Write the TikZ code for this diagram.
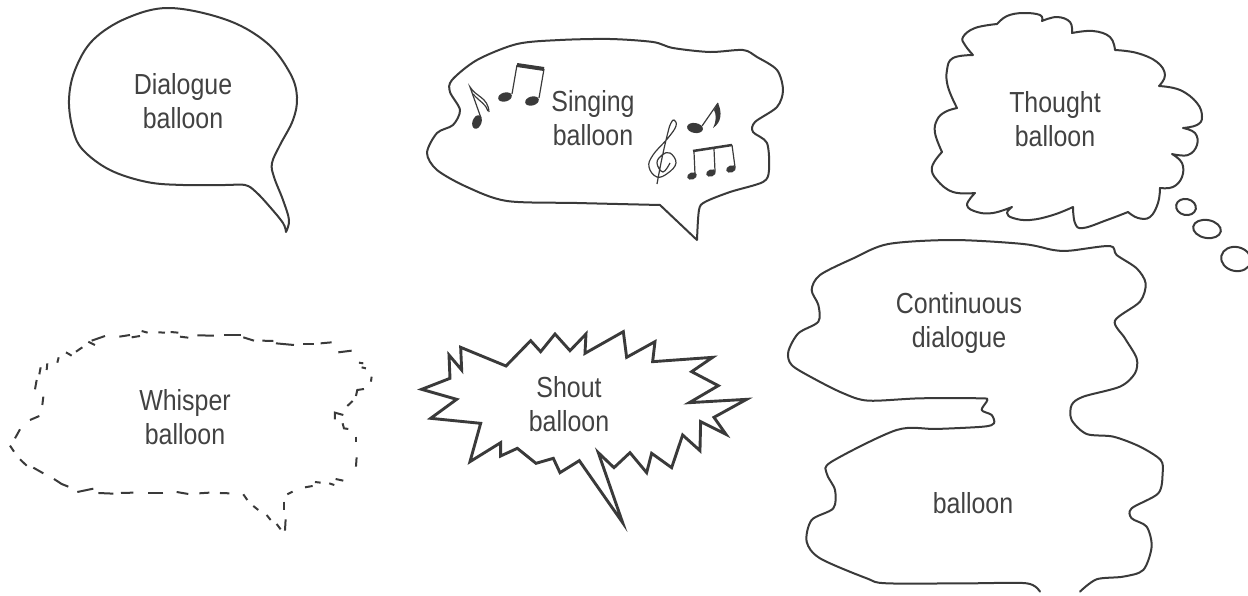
\documentclass[tikz,border=0pt]{standalone}
\usepackage{fontspec}
\setmainfont[FakeStretch=0.86]{Liberation Sans}
\usepackage{xcolor}
\definecolor{inkgray}{RGB}{58,58,58}
\definecolor{textgray}{RGB}{66,66,66}

\begin{document}
\begin{tikzpicture}[
  x=1pt, y=-1pt,
  balloon/.style={draw=inkgray, line width=2pt, line join=round, line cap=round},
  loud/.style={draw=inkgray, line width=2.9pt, line join=miter},
  whisperdash/.style={draw=inkgray, line width=2pt},
  caption/.style={font=\fontsize{29}{34}\selectfont, text=textgray, align=center, inner sep=0pt},
  crop/.style 2 args={shift={(#1,#2)}, x=0.3333pt, y=-0.3333pt},
  notehead/.style={fill=inkgray, draw=none},
  stem/.style={draw=inkgray, line width=1.2pt},
  beam/.style={draw=inkgray, line width=4pt},
]
\useasboundingbox (0,0) rectangle (1248,595);

% ── Dialogue balloon
\draw[balloon] plot[smooth, tension=0.6] coordinates {
  (286,232) (289,220) (283,200) (274,177) (272,163) (280,145) (293,120) (297,97)
  (290,73) (267,43) (227,20) (170,8) (127,18) (93,40) (75,70) (69,100) (73,130)
  (83,150) (110,170) (147,182) (183,185) (225,185) (245,185) (256,192)
  (270,207) (283,223) (286,232)};
\node[caption] (dialogueText) at (183,101) {Dialogue\\balloon};

% ── Singing balloon
\draw[balloon] plot[smooth, tension=0.5] coordinates {
  (697,240) (699,210) (705,202) (730,192) (763,182) (769,170) (767,143) (753,132)
  (755,122) (777,107) (783,90) (777,70) (757,57) (743,50) (710,52) (673,48)
  (653,42) (610,39) (560,40) (517,44) (477,60) (452,80) (450,92) (460,110)
  (453,125) (437,133) (427,153) (437,170) (467,187) (507,201) (577,203) (660,205)}
  -- (697,240);
\node[caption] (singingText) at (593,118) {Singing\\balloon};

% notes, left
\fill[notehead] (477,122) ellipse [x radius=4.5pt, y radius=7pt, rotate=-20];
\draw[stem] (481,118) -- (470,87) .. controls (476,97) and (488,97) .. (489,112);
\draw[stem] (473,94) .. controls (480,102) and (486,104) .. (488,111);
\fill[notehead] (505,97) ellipse [x radius=7pt, y radius=4.5pt, rotate=15];
\fill[notehead] (532,101) ellipse [x radius=7pt, y radius=4.5pt, rotate=15];
\draw[stem] (512,94) -- (517,65);
\draw[stem] (539,98) -- (544,69);
\draw[beam] (517,65) -- (544,69);

% notes, right
\fill[notehead] (695,128) ellipse [x radius=8pt, y radius=5pt, rotate=-10];
\draw[stem] (702,126) -- (718,103);
\fill[inkgray] (718,103) .. controls (722,112) and (722,122) .. (713,128)
  .. controls (717,120) and (716,114) .. (714,110) -- cycle;
\fill[notehead] (692,176) ellipse [x radius=5pt, y radius=3.5pt, rotate=20];
\fill[notehead] (711,173) ellipse [x radius=5pt, y radius=3.5pt, rotate=20];
\fill[notehead] (731,169) ellipse [x radius=5pt, y radius=3.5pt, rotate=20];
\draw[stem] (695,174) -- (694,152);
\draw[stem] (715,171) -- (714,149);
\draw[stem] (735,167) -- (732,145);
\draw[draw=inkgray, line width=2.5pt] (693,151) -- (732,145);

% treble clef
\draw[stem] plot[smooth, tension=0.7] coordinates {
  (657,184) (662,158) (668,132) (671,123) (674,120) (676,126) (668,138) (653,155)
  (649,167) (657,177) (668,173) (676,163) (670,153) (662,155) (657,163) (663,172) (670,163)};

% ── Thought balloon
\draw[balloon] plot[smooth, tension=0.7] coordinates {(973,55) (965,45) (963,37) (975,28) (997,24)}
  -- plot[smooth, tension=0.7] coordinates {(997,24) (1007,16) (1023,13) (1040,15) (1042,21)}
  -- plot[smooth, tension=0.7] coordinates {(1042,21) (1057,17) (1070,22) (1072,33)}
  -- plot[smooth, tension=0.7] coordinates {(1072,33) (1093,31) (1110,37) (1115,50)}
  -- plot[smooth, tension=0.7] coordinates {(1115,50) (1137,53) (1157,62) (1165,75) (1159,86)}
  -- plot[smooth, tension=0.7] coordinates {(1159,86) (1180,90) (1197,103) (1202,117) (1197,125) (1183,128)}
  -- plot[smooth, tension=0.7] coordinates {(1183,128) (1195,133) (1197,145) (1188,155) (1172,154)}
  -- plot[smooth, tension=0.7] coordinates {(1172,154) (1182,163) (1182,177) (1173,187) (1160,188)}
  -- plot[smooth, tension=0.7] coordinates {(1160,188) (1158,203) (1150,217) (1138,218) (1128,212)}
  -- plot[smooth, tension=0.7] coordinates {(1128,212) (1107,220) (1083,228) (1075,223) (1073,207)}
  -- plot[smooth, tension=0.7] coordinates {(1073,207) (1053,215) (1030,220) (1013,218) (1007,213) (1012,207)}
  -- plot[smooth, tension=0.7] coordinates {(1012,207) (993,213) (977,212) (967,205) (975,193)}
  -- plot[smooth, tension=0.7] coordinates {(975,193) (953,192) (937,180) (932,167) (942,152)}
  -- plot[smooth, tension=0.7] coordinates {(942,152) (935,133) (937,120) (945,112) (957,108)}
  -- plot[smooth, tension=0.7] coordinates {(957,108) (948,87) (947,70) (953,58) (973,55)};
\node[caption] (thoughtText) at (1055,119) {Thought\\balloon};
\draw[balloon] (1186,207) ellipse [x radius=10pt, y radius=8pt, rotate=-12];
\draw[balloon] (1207,229) ellipse [x radius=14pt, y radius=9pt, rotate=-10];
\draw[balloon] (1236,259) ellipse [x radius=15pt, y radius=12pt, rotate=-12];

% ── Whisper balloon
\begin{scope}[crop={0}{320}]
  \foreach \ax/\ay/\bx/\by in {
    358/50/390/45, 395/52/420/48, 425/33/443/38, 475/37/495/38, 512/36/535/38,
    540/50/565/53, 592/46/642/47, 672/46/722/46, 730/52/762/62, 787/62/820/63,
    828/70/882/75, 910/72/942/72, 962/70/995/67, 1015/97/1055/92, 1077/128/1090/130,
    1085/142/1098/145, 1115/170/1113/185, 1058/243/1042/258, 1067/350/1067/365,
    1070/412/1068/440, 1030/482/1007/477, 1003/495/988/490, 962/488/945/486,
    938/498/915/502, 878/515/862/523, 853/545/853/570, 857/598/855/632,
    842/628/830/612, 812/600/800/585, 775/570/760/558, 742/540/730/523,
    688/520/660/519, 628/518/598/520, 565/522/530/516, 490/519/445/519,
    400/518/363/519, 340/521/295/519, 280/506/232/516, 130/460/100/443,
    80/437/60/418, 42/395/30/377, 45/355/60/328, 90/300/118/288, 127/255/130/230,
    105/208/110/180, 118/163/122/142, 140/150/142/130, 172/128/176/112,
    198/97/215/107, 228/95/247/82, 265/65/285/75, 275/62/315/48}
    {\draw[whisperdash] (\ax,\ay) -- (\bx,\by);}
  \draw[whisperdash] (1092,207) -- (1072,210) -- (1068,228);
  \draw[whisperdash] (1005,298) -- (1005,278) -- (1030,285);
  \draw[whisperdash] (1028,310) -- (1032,325) -- (1045,327);
  \draw[whisperdash] (205,500) -- (185,492) -- (162,477);
\end{scope}
\node[caption] (whisperText) at (185,417) {Whisper\\balloon};

% ── Shout balloon
\begin{scope}[crop={410}{320}]
  \draw[loud] (35,208) -- (140,238) -- (62,295) -- (212,310) -- (180,425) -- (272,368)
    -- (272,408) -- (322,385) -- (378,430) -- (430,415) -- (450,458) -- (508,422)
    -- (638,608) -- (565,398) -- (612,443) -- (660,398) -- (710,458) -- (725,400)
    -- (785,443) -- (818,345) -- (870,392) -- (872,305) -- (948,343) -- (912,292)
    -- (1010,238) -- (838,248) -- (925,197) -- (845,155) -- (908,112) -- (728,125)
    -- (735,65) -- (650,112) -- (640,35) -- (525,100) -- (528,42) -- (480,92)
    -- (435,42) -- (392,95) -- (362,62) -- (288,138) -- (152,82) -- (155,150)
    -- (117,105) -- (120,175) -- cycle;
\end{scope}
\node[caption] (shoutText) at (569,404) {Shout\\balloon};

% ── Continuous balloon
\begin{scope}[crop={770}{230}]
  \draw[balloon] plot[smooth, tension=0.5] coordinates {
    (810,1085) (770,1060) (600,1060) (350,1060) (290,1045) (150,985) (110,935)
    (125,870) (190,835) (195,780) (170,730) (185,695) (380,600) (500,597) (640,590)
    (672,580) (665,555) (635,540) (652,510) (630,505) (450,505) (295,512) (220,490)
    (130,445) (65,405) (55,365) (85,310) (145,275) (145,225) (125,180) (150,135)
    (250,85) (355,42) (550,30) (760,42) (850,60) (900,62) (1020,48) (1040,75)
    (1100,115) (1127,160) (1110,215) (1035,272) (1065,325) (1100,385) (1095,430)
    (1050,470) (940,500) (905,525) (905,570) (950,612) (1030,620) (1110,650)
    (1172,690) (1178,730) (1165,790) (1085,835) (1085,865) (1130,890) (1145,950)
    (1120,1020) (1060,1040) (980,1048) (930,1085)};
\end{scope}
\node[caption] (continuousText) at (959,323) {Continuous\\dialogue};
\node[caption] (balloonText) at (973,503) {balloon};

\end{tikzpicture}
\end{document}
